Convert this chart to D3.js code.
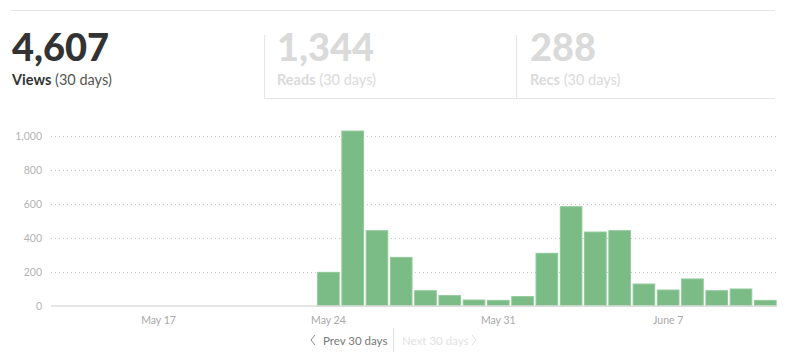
<!DOCTYPE html>
<meta charset="utf-8">
<script src="https://cdn.jsdelivr.net/npm/d3@7"></script>
<style>
body{margin:0;background:#fff;}
text{font-family:Lato,"Open Sans",sans-serif;}
</style>
<body>
<script>
// stats tabs
var tabNames=["Views","Reads","Recs"];
var tabTotals=[4607,1344,288];
// daily views, May 13 .. June 11
var days=["May 13","May 14","May 15","May 16","May 17","May 18","May 19","May 20","May 21","May 22","May 23",
          "May 24","May 25","May 26","May 27","May 28","May 29","May 30","May 31",
          "June 1","June 2","June 3","June 4","June 5","June 6","June 7","June 8","June 9","June 10","June 11"];
var views=[0,0,0,0,0,0,0,0,0,0,0,
           198,1029,443,286,90,61,35,33,
           55,310,584,435,443,129,94,159,90,100,33];
var yTicks=[0,200,400,600,800,1000];
var xTicks=["May 17","May 24","May 31","June 7"];

var svg=d3.select("body").append("svg").attr("width",800).attr("height",361);

// header tabs
svg.append("line").attr("x1",11).attr("x2",775).attr("y1",10.5).attr("y2",10.5).attr("stroke","#e6e6e6");
svg.append("line").attr("x1",264).attr("x2",775).attr("y1",98.5).attr("y2",98.5).attr("stroke","#e6e6e6");
var tabX=[12,277,530];
[264.5,516.5].forEach(function(x){
  svg.append("line").attr("x1",x).attr("x2",x).attr("y1",35).attr("y2",99).attr("stroke","#e6e6e6");
});
tabNames.forEach(function(n,i){
  var on=i==0;
  svg.append("text").attr("x",tabX[i]).attr("y",61)
    .style("font-size","38px").style("font-weight",900).attr("fill",on?"#333":"#dadada")
    .text(d3.format(",")(tabTotals[i]));
  var t=svg.append("text").attr("x",tabX[i]).attr("y",85).style("font-size","14.5px");
  t.append("tspan").style("font-weight",700).attr("fill",on?"#333":"#dadada").text(n);
  t.append("tspan").attr("fill",on?"#555":"#dadada").text(" (30 days)");
});

// chart
var x=d3.scaleBand().domain(days).range([49.3,777.4]).paddingInner(0.11).paddingOuter(0.055);
var y=d3.scaleLinear().domain([0,1000]).range([306,136]);

var yaxis=svg.append("g").attr("transform","translate(51,0)")
  .call(d3.axisLeft(y).tickValues(yTicks).tickSize(-725).tickPadding(9).tickFormat(d3.format(",")));
yaxis.select(".domain").remove();
yaxis.selectAll("line").attr("stroke","#c8c8c8").attr("stroke-dasharray","1,3");
yaxis.selectAll("text").attr("fill","#b3b3b3").style("font-size","10.5px");
yaxis.selectAll(".tick").filter(function(d){return d==0;}).select("line").remove();

svg.selectAll("rect.bar").data(views).enter().append("rect").attr("class","bar")
  .attr("x",function(d,i){return x(days[i]);})
  .attr("width",x.bandwidth())
  .attr("y",function(d){return y(d);})
  .attr("height",function(d){return 306-y(d);})
  .attr("fill","#7bbb85").attr("stroke","#8fc999").attr("stroke-width",1)
  .attr("visibility",function(d){return d>0?"visible":"hidden";});

svg.append("line").attr("x1",51).attr("x2",776).attr("y1",306).attr("y2",306).attr("stroke","#dcdcdc").attr("stroke-width",1.5);

var xaxis=svg.append("g").attr("transform","translate(0,306)")
  .call(d3.axisBottom(x).tickValues(xTicks).tickSize(0).tickPadding(11));
xaxis.select(".domain").remove();
xaxis.selectAll("text").attr("fill","#a8a8a8").style("font-size","10.5px");

// pager
svg.append("text").attr("x",323).attr("y",345).attr("fill","#777")
  .style("font-size","11.5px").text("Prev 30 days");
svg.append("path").attr("d","M315,335 l-4,5 l4,5").attr("fill","none").attr("stroke","#888");
svg.append("line").attr("x1",393.5).attr("x2",393.5).attr("y1",328).attr("y2",352).attr("stroke","#ddd");
svg.append("text").attr("x",402).attr("y",345).attr("fill","#e2e2e2")
  .style("font-size","11.5px").text("Next 30 days");
svg.append("path").attr("d","M472,335 l4,5 l-4,5").attr("fill","none").attr("stroke","#e2e2e2");
</script>
</body>
</html>
